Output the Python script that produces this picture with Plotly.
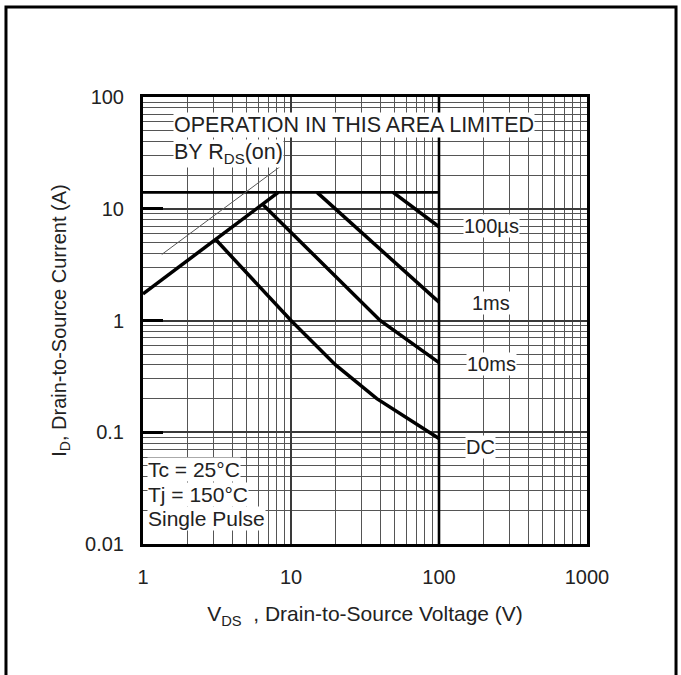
import math
import plotly.graph_objects as go

# ---- data (V in volts, I in amps) ----
rds_v = [1.0, 8.2]
rds_i = [1.73, 14.0]
ilim_v = [1.0, 100.0]
ilim_i = [14.0, 14.0]
vlim_v = [100.0, 100.0]
vlim_i = [0.01, 100.0]
us100_v = [49.0, 100.0]
us100_i = [14.0, 6.9]
ms1_v = [15.0, 100.0]
ms1_i = [14.0, 1.46]
ms10_v = [6.5, 40.0, 100.0]
ms10_i = [10.8, 1.0, 0.42]
dc_v = [3.1, 10.0, 20.0, 38.0, 100.0]
dc_i = [5.3, 1.0, 0.4, 0.2, 0.088]
pointer_v = [1.34, 8.4]
pointer_i = [3.9, 23.7]

x_ticks = [1, 10, 100, 1000]
x_ticktext = ["1", "10", "100", "1000"]
y_ticks = [0.01, 0.1, 1, 10, 100]
y_ticktext = ["0.01", "0.1", "1", "10", "100"]

FONT = "Liberation Sans, Arial, sans-serif"
TXT = "#222222"

fig = go.Figure()

def add_line(xs, ys, width, color="black"):
    fig.add_trace(go.Scatter(x=xs, y=ys, mode="lines",
                             line=dict(color=color, width=width),
                             hoverinfo="skip", showlegend=False))

add_line(ilim_v, ilim_i, 2.6)
add_line(vlim_v, vlim_i, 2.6)
add_line(rds_v, rds_i, 3.5)
add_line(us100_v, us100_i, 3.5)
add_line(ms1_v, ms1_i, 3.5)
add_line(ms10_v, ms10_i, 3.5)
add_line(dc_v, dc_i, 3.5)
add_line(pointer_v, pointer_i, 1.0, "#555555")

def label(v, i, text, xanchor="center", size=20):
    fig.add_annotation(x=math.log10(v), y=math.log10(i), xref="x", yref="y",
                       text=text, showarrow=False,
                       xanchor=xanchor, yanchor="middle", bgcolor="white",
                       borderpad=0, font=dict(family=FONT, size=size, color=TXT))

label(225, 7.0, "100µs")
label(225, 1.43, "1ms")
label(225, 0.41, "10ms")
label(190, 0.074, "DC")
label(1.6, 56, "OPERATION IN THIS AREA LIMITED", "left", 21.5)
label(1.6, 31, "BY R<sub>DS</sub>(on)", "left", 21.5)
label(1.07, 0.046, "Tc = 25°C", "left", 21)
label(1.07, 0.028, "Tj = 150°C", "left", 21)
label(1.07, 0.0168, "Single Pulse", "left", 21)

grid_major = "#3a3a3a"
grid_minor = "#555555"

fig.update_xaxes(type="log", range=[0, 3], tickvals=x_ticks, ticktext=x_ticktext,
                 showgrid=True, gridcolor=grid_major, gridwidth=1.8,
                 minor=dict(dtick="D1", showgrid=True, gridcolor=grid_minor, gridwidth=1.2),
                 showline=True, linecolor="black", linewidth=3, mirror=True,
                 ticks="", ticklabelstandoff=13, zeroline=False,
                 tickfont=dict(family=FONT, size=20, color=TXT),
                 title=dict(text="V<sub>DS</sub>  , Drain-to-Source Voltage (V)",
                            font=dict(family=FONT, size=21, color=TXT), standoff=20))
fig.update_yaxes(type="log", range=[-2, 2], tickvals=y_ticks, ticktext=y_ticktext,
                 showgrid=True, gridcolor=grid_major, gridwidth=1.8,
                 minor=dict(dtick="D1", showgrid=True, gridcolor=grid_minor, gridwidth=1.2),
                 showline=True, linecolor="black", linewidth=3, mirror=True,
                 ticks="inside", ticklen=20, tickwidth=2.5, tickcolor="black",
                 ticklabelstandoff=12, zeroline=False,
                 tickfont=dict(family=FONT, size=20, color=TXT),
                 title=dict(text="I<sub>D</sub>, Drain-to-Source Current (A)",
                            font=dict(family=FONT, size=20, color=TXT), standoff=14))

# outer frame (top, left, right edges of the figure box)
fig.add_shape(type="path", xref="paper", yref="paper",
              path="M -0.3086,-0.35 L -0.3086,1.2013 L 1.2005,1.2013 L 1.2005,-0.35",
              line=dict(color="black", width=3))

fig.update_layout(width=681, height=675, margin=dict(l=143, r=94, t=97, b=131),
                  paper_bgcolor="white", plot_bgcolor="white",
                  font=dict(family=FONT, color=TXT))

fig.write_html("out.html")
